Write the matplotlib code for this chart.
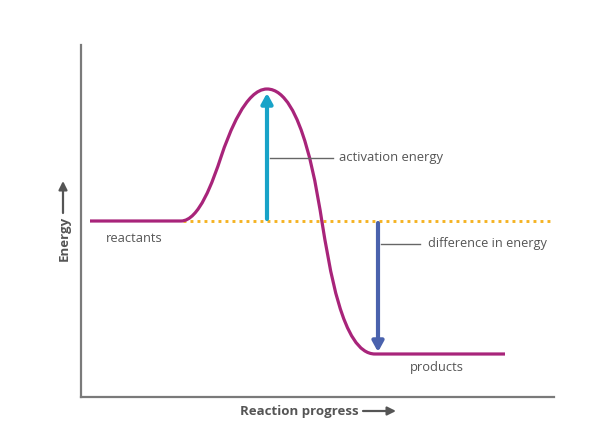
import matplotlib
matplotlib.use("Agg")
import matplotlib.pyplot as plt
from matplotlib.path import Path
from matplotlib.patches import PathPatch

# Reaction energy profile as Bezier vertices (x: reaction progress, y: energy),
# read from the picture: flat reactants, rise to the transition state, fall to products
progress = [9, 100, 118, 132, 140, 148, 165, 186, 222, 237, 241, 248, 261, 294, 424]
energy = [176, 176, 176, 216, 240, 264, 308, 308, 308, 199, 175, 133, 43, 43, 43]
codes = [Path.MOVETO, Path.LINETO,
         Path.CURVE4, Path.CURVE4, Path.CURVE4,
         Path.CURVE4, Path.CURVE4, Path.CURVE4,
         Path.CURVE4, Path.CURVE4, Path.CURVE4,
         Path.CURVE4, Path.CURVE4, Path.CURVE4,
         Path.LINETO]

reactant_level = 176
product_level = 43
peak_level = 306
ts_x = 186
diff_x = 297
dotted_start = 102
x_max = 473
y_max = 352

labels = {
    "reactants": (25, 159),
    "products": (329, 29),
}

fig = plt.figure(figsize=(6.08, 4.34), dpi=100)
ax = fig.add_axes([81/608, 37/434, 473/608, 352/434])
ax.set_xlim(0, x_max)
ax.set_ylim(0, y_max)
for s in ["top", "right"]:
    ax.spines[s].set_visible(False)
for s in ["left", "bottom"]:
    ax.spines[s].set_color("#7a7a7a")
    ax.spines[s].set_linewidth(1.6)
ax.set_xticks([])
ax.set_yticks([])

font = "Open Sans"
tcol = "#555555"

# dotted reactant level line
ax.plot([dotted_start, x_max], [reactant_level, reactant_level], color="#f5b324",
        lw=2.1, linestyle=(0, (1.0, 1.4)), dash_capstyle="butt", zorder=2)

# energy profile curve
curve = Path(list(zip(progress, energy)), codes)
ax.add_patch(PathPatch(curve, facecolor="none", edgecolor="#a8247a", lw=2.3,
                       capstyle="butt", joinstyle="round", zorder=3))

# activation energy arrow
ax.annotate("", xy=(ts_x, peak_level - 2), xytext=(ts_x, reactant_level + 2),
            arrowprops=dict(arrowstyle="-|>,head_length=0.6,head_width=0.33",
                            color="#18a3c8", lw=3.0, shrinkA=0, shrinkB=0),
            zorder=4)
# difference in energy arrow
ax.annotate("", xy=(diff_x, product_level + 2), xytext=(diff_x, reactant_level - 2),
            arrowprops=dict(arrowstyle="-|>,head_length=0.6,head_width=0.33",
                            color="#4a62ad", lw=3.0, shrinkA=0, shrinkB=0),
            zorder=4)

# leader lines and annotation labels
ax.plot([ts_x + 3, ts_x + 66], [239, 239], color="#666666", lw=1.0, zorder=3)
ax.text(ts_x + 72, 239, "activation energy", fontsize=9.4, family=font,
        color=tcol, va="center", ha="left")
ax.plot([diff_x + 3, diff_x + 42], [153, 153], color="#666666", lw=1.0, zorder=3)
ax.text(diff_x + 50, 153, "difference in energy", fontsize=9.2, family=font,
        color=tcol, va="center", ha="left")

for name, (lx, ly) in labels.items():
    ax.text(lx, ly, name, fontsize=9.3, family=font, color=tcol,
            va="center", ha="left")

# axis labels with arrows
ax.text(159, -14, "Reaction progress", fontsize=9.5, family=font, weight="bold",
        color=tcol, va="center", ha="left", clip_on=False)
ax.annotate("", xy=(315, -14), xytext=(282, -14), annotation_clip=False,
            arrowprops=dict(arrowstyle="-|>,head_length=0.5,head_width=0.25",
                            color=tcol, lw=1.6, shrinkA=0, shrinkB=0))
ax.text(-17, 159, "Energy", fontsize=9.5, family=font, weight="bold",
        color=tcol, va="center", ha="center", rotation=90, clip_on=False)
ax.annotate("", xy=(-18, 216), xytext=(-18, 184), annotation_clip=False,
            arrowprops=dict(arrowstyle="-|>,head_length=0.5,head_width=0.25",
                            color=tcol, lw=1.6, shrinkA=0, shrinkB=0))

fig.savefig("out.png", dpi=100)
